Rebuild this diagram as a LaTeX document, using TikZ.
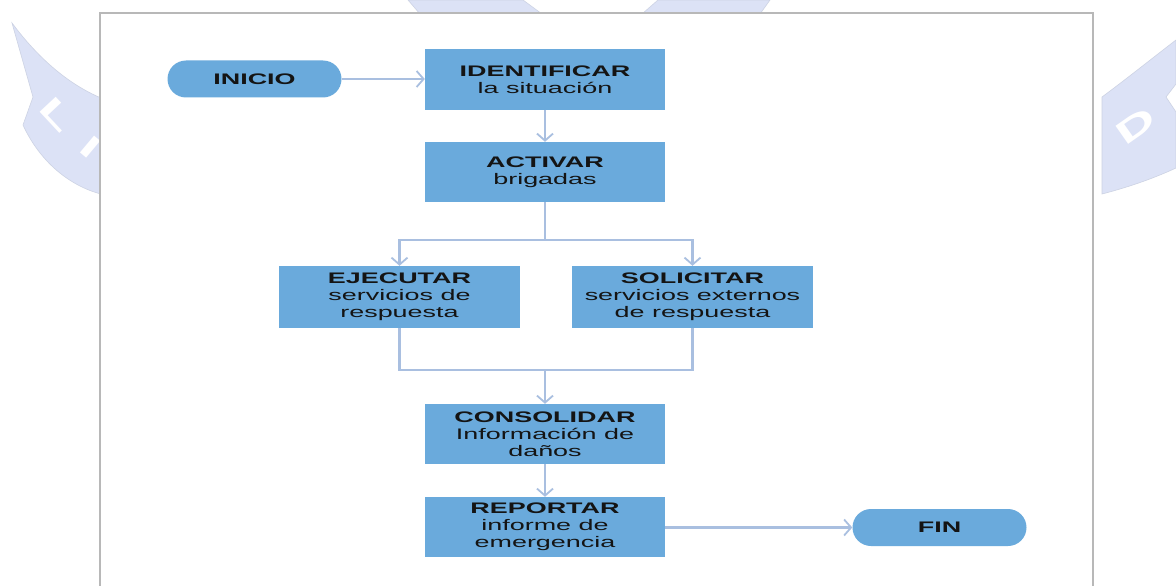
\documentclass[tikz,border=0pt]{standalone}
\usepackage{fontspec}
\setmainfont{Liberation Sans}[FakeStretch=1.76]
\usetikzlibrary{arrows.meta}
\definecolor{boxblue}{HTML}{6AAADC}
\definecolor{linkblue}{HTML}{A9BFE0}
\definecolor{wmark}{HTML}{DCE2F6}
\definecolor{wedge}{HTML}{CDD3E4}
\definecolor{framegray}{HTML}{B8B8B8}
\definecolor{inkc}{HTML}{141414}
\begin{document}
\begin{tikzpicture}[x=1pt,y=-1pt,
  stepbox/.style={rectangle, fill=boxblue, draw=none, minimum width=240pt, minimum height=60pt,
    align=center, text=inkc, font=\fontsize{15.3}{17}\selectfont, inner sep=0pt},
  term/.style={rectangle, rounded corners=18.5pt, fill=boxblue, draw=none, minimum width=174pt,
    minimum height=37pt, text=inkc, font=\fontsize{15.3}{17}\selectfont\bfseries},
  conn/.style={draw=linkblue, line width=2.4pt, -{Straight Barb[length=7pt,width=16pt,line width=1.8pt]}},
  link/.style={draw=linkblue, line width=2.4pt},
  wm/.style={fill=wmark, draw=wedge, line width=0.6pt},
  wmtext/.style={text=white, font=\fontsize{32}{32}\selectfont\bfseries, inner sep=0pt}]
\useasboundingbox (0,0) rectangle (1176,586);
\fill[white] (0,0) rectangle (1176,586);
% watermark
\path[wm] (12,23) .. controls (38,58) and (68,84) .. (101,98) -- (101,194)
  .. controls (70,186) and (40,162) .. (23,125) -- (33,97) -- cycle;
\node[wmtext, rotate=-47] (wl) at (57,115) {L};
\node[wmtext, rotate=-40] (wi) at (91,147) {I};
\path[wm] (1102,97) .. controls (1125,80) and (1150,60) .. (1176,40) -- (1176,84) -- (1166,97)
  -- (1176,112) -- (1176,168) .. controls (1150,180) and (1125,188) .. (1102,194) -- cycle;
\node[wmtext, rotate=35] (wd) at (1136,126) {D};
\path[wm] (408,0) -- (523,0) -- (542,14) -- (420,14) -- cycle;
\path[wm] (658,0) -- (770,0) -- (760,14) -- (642,14) -- cycle;
% frame
\fill[white] (100,13) rectangle (1093,590);
\draw[framegray, line width=2pt] (100,590) -- (100,13) -- (1093,13) -- (1093,590);
% nodes
\node[term] (inicio) at (254.5,79) {INICIO};
\node[stepbox] (ident) at (545,79.5) {\textbf{IDENTIFICAR}\\la situación};
\node[stepbox] (activ) at (545,172) {\textbf{ACTIVAR}\\brigadas};
\node[stepbox, minimum width=241pt, minimum height=62pt] (ejec) at (399.5,297) {\textbf{EJECUTAR}\\servicios de\\respuesta};
\node[stepbox, minimum width=241pt, minimum height=62pt] (solic) at (692.5,297) {\textbf{SOLICITAR}\\servicios externos\\de respuesta};
\node[stepbox] (conso) at (545,434) {\textbf{CONSOLIDAR}\\Información de\\daños};
\node[stepbox] (report) at (545,527) {\textbf{REPORTAR}\\informe de\\emergencia};
\node[term] (fin) at (939.5,527.5) {FIN};
\coordinate (split) at (545,240);
\coordinate (merge) at (545,370);
% connectors
\draw[conn] (inicio.east) -- (ident.west |- inicio.east);
\draw[conn] (ident.south) -- (activ.north);
\draw[link] (activ.south) -- (split);
\draw[conn] (split) -| (ejec.north);
\draw[conn] (split) -| (solic.north);
\draw[link] (ejec.south) |- (merge) -| (solic.south);
\draw[conn] (merge) -- (conso.north);
\draw[conn] (conso.south) -- (report.north);
\draw[conn] (report.east |- fin.west) -- (fin.west);
\end{tikzpicture}
\end{document}
